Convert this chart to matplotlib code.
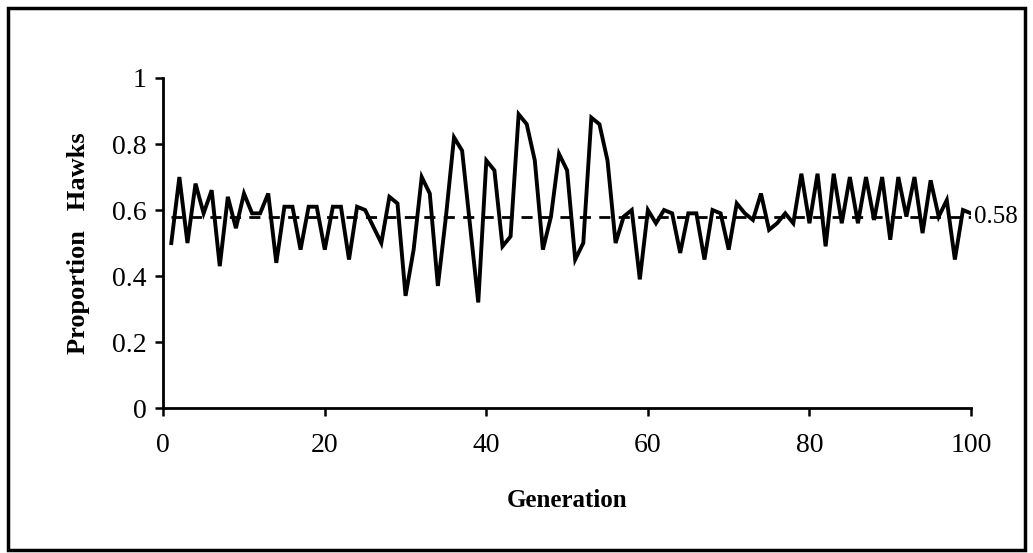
import matplotlib

matplotlib.use("Agg")
import matplotlib.pyplot as plt
from matplotlib.patches import Rectangle

# proportion of hawks per generation
generation = list(range(1, 101))
hawks = [
    0.50, 0.70, 0.50, 0.68, 0.59, 0.66, 0.43, 0.64, 0.545, 0.65,
    0.59, 0.59, 0.65, 0.44, 0.61, 0.61, 0.48, 0.61, 0.61, 0.48,
    0.61, 0.61, 0.45, 0.61, 0.60, 0.55, 0.50, 0.64, 0.62, 0.34,
    0.48, 0.70, 0.65, 0.37, 0.58, 0.82, 0.78, 0.55, 0.32, 0.75,
    0.72, 0.49, 0.52, 0.89, 0.86, 0.75, 0.48, 0.58, 0.77, 0.72,
    0.45, 0.50, 0.88, 0.86, 0.75, 0.50, 0.58, 0.60, 0.39, 0.60,
    0.56, 0.60, 0.59, 0.47, 0.59, 0.59, 0.45, 0.60, 0.59, 0.48,
    0.62, 0.59, 0.57, 0.65, 0.54, 0.56, 0.59, 0.56, 0.71, 0.56,
    0.71, 0.49, 0.71, 0.56, 0.70, 0.56, 0.70, 0.57, 0.70, 0.51,
    0.70, 0.58, 0.70, 0.53, 0.69, 0.58, 0.63, 0.45, 0.60, 0.59,
]
mean_level = 0.58
x_ticks = [0, 20, 40, 60, 80, 100]
y_ticks = [0, 0.2, 0.4, 0.6, 0.8, 1]
y_tick_labels = ["0", "0.2", "0.4", "0.6", "0.8", "1"]

plt.rcParams["font.family"] = ["Liberation Serif", "DejaVu Serif"]

fig = plt.figure(figsize=(10.33, 5.53), dpi=100)
fig.patches.append(Rectangle((0.008, 0.006), 0.984, 0.980, transform=fig.transFigure,
                             fill=False, edgecolor="black", linewidth=2.5))

ax = fig.add_axes([0.158, 0.262, 0.782, 0.597])
ax.plot(generation, hawks, color="black", linewidth=2.8, solid_joinstyle="miter")
ax.plot([generation[0], generation[-1]], [mean_level, mean_level], color="black",
        linewidth=2, dashes=(4, 3))
ax.text(100.4, mean_level, f"{mean_level:.2f}", ha="left", va="center", fontsize=18,
        clip_on=False)

ax.set_xlim(0, 100)
ax.set_ylim(0, 1)
ax.set_xticks(x_ticks)
ax.set_yticks(y_ticks)
ax.set_yticklabels(y_tick_labels)
ax.tick_params(direction="out", length=6, width=1.8, labelsize=20)
ax.tick_params(axis="x", pad=12)
ax.tick_params(axis="y", pad=6)
for side in ("top", "right"):
    ax.spines[side].set_visible(False)
for side in ("left", "bottom"):
    ax.spines[side].set_linewidth(2)

ax.set_xlabel("Generation", fontsize=18, fontweight="bold", labelpad=22)
ax.set_ylabel("Proportion   Hawks", fontsize=19, fontweight="bold", labelpad=16)

fig.savefig("out.png", dpi=100)
